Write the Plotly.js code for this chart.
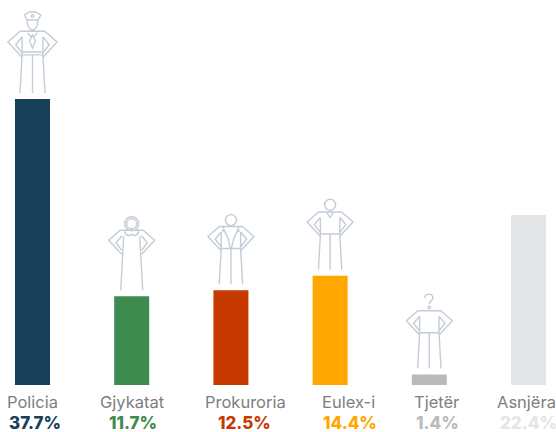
<!DOCTYPE html>
<html><head><meta charset="utf-8">
<script src="https://cdn.plot.ly/plotly-3.0.1.min.js"></script>
<style>html,body{margin:0;padding:0;background:#fff;overflow:hidden}</style>
</head><body><div id="chart" style="width:556px;height:432px"></div>
<script>
const categories = ["Policia","Gjykatat","Prokuroria","Eulex-i","Tjetër","Asnjëra"];
const shares = [37.7,11.7,12.5,14.4,1.4,22.4];
const barColors = ["#173f59","#3d8b4f","#c63a00","#ffa600","#b9babc","#e4e5e7"];
const valueColors = ["#173f59","#3d8b4f","#c63a00","#ffa600","#b9babc","#e4e5e7"];
const labelShiftPx = [0,1,15,18,7,-2];
const valueShiftPx = [2,1,14,20,8,0];

const fmt = v => v.toFixed(1) + "%";
/* Figure icons: drawn in pixels relative to the top of each bar. */
const LIFT = 6;
const P = p => p[0].toFixed(1) + "," + (p[1] + LIFT).toFixed(1);
const seg = pts => "M" + pts.map(P).join("L");
const both = pts => seg(pts) + seg(pts.map(p => [-p[0], p[1]]));
const curve = (start, ...triples) => "M" + P(start) + triples.map(t => "C" + t.map(P).join(" ")).join("");
const circle = (cx, cy, r) => { const c = r * 0.5523; return curve([cx-r,cy],
  [[cx-r,cy+c],[cx-c,cy+r],[cx,cy+r]], [[cx+c,cy+r],[cx+r,cy+c],[cx+r,cy]],
  [[cx+r,cy-c],[cx+c,cy-r],[cx,cy-r]], [[cx-c,cy-r],[cx-r,cy-c],[cx-r,cy]]); };
const arms = (top, k = 1) =>
  both([[0,top],[-11.5*k,top],[-23*k,top-10*k],[-10*k,top-24*k]]) +
  both([[-9.7*k,top-5.5],[-15.7*k,top-12.5*k],[-10*k,top-20*k]]);
const man = (k = 1) => {
  const top = 56.7 * k + 1;
  return arms(top, k) +
    both([[-9.7*k,top-5.5],[-9.7*k,top-22*k],[-11.7*k,0]]) +
    seg([[-9.7*k,top-22*k],[9.7*k,top-22*k]]) +
    seg([[0,top-22*k],[0,0]]);
};
const icons = {
  "Policia": man(1.07) +
    seg([[-9.6,41],[9.6,41]]) +
    seg([[-3,52],[0,45],[3,52],[0,58],[-3,52]]) +
    both([[-5,60],[-1,56],[0,58]]) +
    curve([-5.5,74],[[-5.5,66],[-2.5,63],[0,63]],[[2.5,63],[5.5,66],[5.5,74]]) +
    seg([[-8.3,78],[-3,81],[3,81],[8.3,78],[5.5,73],[-5.5,73],[-8.3,78]]) +
    circle(0,77,1.3),
  "Gjykatat": arms(60,1) +
    both([[-8,54],[-11,0]]) +
    circle(0,66.5,5) + circle(0,66.5,7) +
    curve([-7,59],[[-6,54],[-2,54],[0,56]],[[2,54],[6,54],[7,59]]),
  "Prokuroria": man(1) + circle(0,64,5.5) +
    both([[-8,57],[-3,46],[0,34]]) +
    both([[-6,52],[-9,54]]),
  "Eulex-i": man(1) + circle(0,65,5.5) +
    both([[-3,57],[0,52]]),
  "Tjetër": man(1) +
    curve([-4.5,70.5],[[-4.5,75],[3.5,76],[3.5,70.5]],[[3.5,67],[0,67.5],[0,64.5]]) +
    circle(0,61,1.3)
};
const shapes = categories.filter(c => icons[c]).map(c => ({
  type: "path", layer: "above",
  xref: "x", yref: "y",
  xsizemode: "pixel", ysizemode: "pixel",
  xanchor: c, yanchor: shares[categories.indexOf(c)],
  path: icons[c],
  line: {color: "#c4ccd7", width: 1.4},
  fillcolor: "rgba(0,0,0,0)"
}));
const font = "Inter, Lato, sans-serif";
const annotations = categories.flatMap((c,i) => [
  {x:c, xref:"x", y:0, yref:"paper", yanchor:"top", xanchor:"center", xshift:labelShiftPx[i], yshift:-6,
   text:c, showarrow:false, borderpad:0, font:{family:font, size:16.5, color:"#7e7e80"}},
  {x:c, xref:"x", y:0, yref:"paper", yanchor:"top", xanchor:"center", xshift:valueShiftPx[i], yshift:-27,
   text:fmt(shares[i]), showarrow:false, borderpad:0, font:{family:font, size:17, weight:800, color:valueColors[i]}}
]);
Plotly.newPlot("chart", [{
  type:"bar", x:categories, y:shares, marker:{color:barColors, line:{width:0}},
  width:0.353, hoverinfo:"x+y", cliponaxis:false
}], {
  width:556, height:432, margin:{l:0,r:0,t:0,b:47},
  paper_bgcolor:"#fff", plot_bgcolor:"#fff", showlegend:false,
  xaxis:{type:"category", range:[-0.3276,5.277], showticklabels:false, showgrid:false, zeroline:false, showline:false, ticks:""},
  yaxis:{range:[0,50.75], visible:false, showgrid:false, zeroline:false},
  shapes, annotations
}, {displayModeBar:false, staticPlot:true});
</script></body></html>
